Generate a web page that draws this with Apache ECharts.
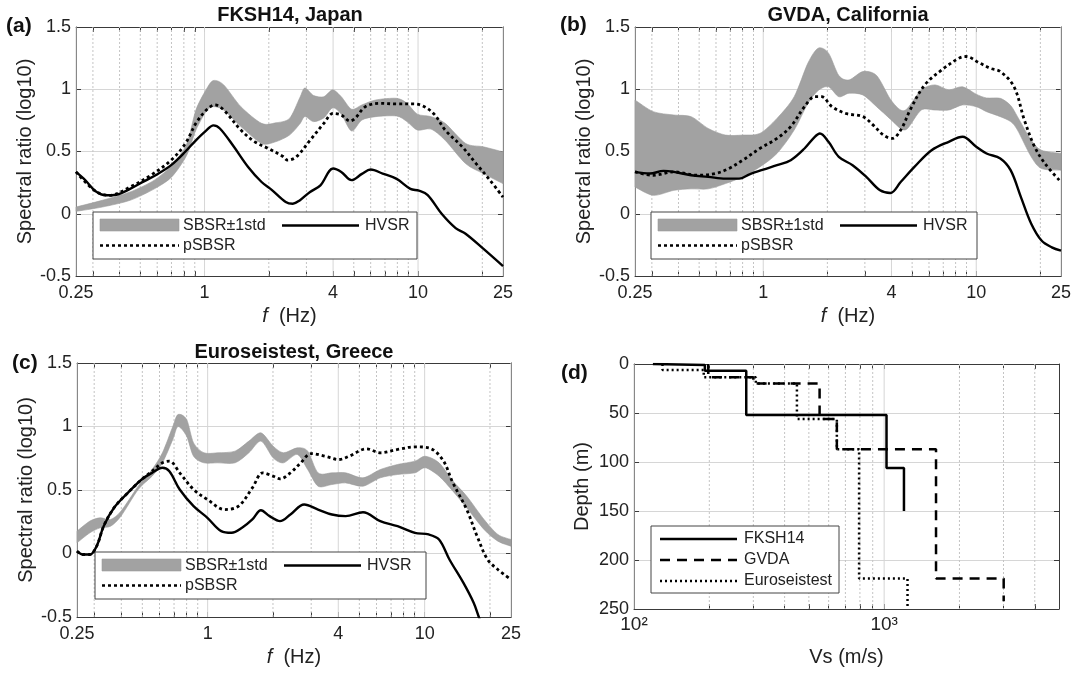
<!DOCTYPE html>
<html>
<head>
<meta charset="utf-8">
<script src="https://cdn.jsdelivr.net/npm/echarts@6/dist/echarts.min.js"></script>
<style>
    html, body { margin: 0; padding: 0; background: #fff; }
    #main { width: 1075px; height: 675px; }
</style>
</head>
<body>
<div id="main"></div>
<script>
'use strict';

// ---- axis ticks ----
var freqMajor = [0.25, 1, 4, 10, 25];
var freqMinor = [0.3, 0.4, 0.5, 0.6, 0.7, 0.8, 0.9, 2, 3, 5, 6, 7, 8, 9, 20];
var vsMajor = [100, 1000];
var vsMinor = [200, 300, 400, 500, 600, 700, 800, 900, 2000, 3000, 4000];

// ---- (a) FKSH14, Japan ----
var aHvsrF = [0.25, 0.276, 0.309, 0.345, 0.386, 0.448, 0.52, 0.604, 0.702, 0.814, 0.911, 1.02, 1.10, 1.18, 1.37, 1.60, 1.85, 2.07, 2.40, 2.59, 2.79, 3.12, 3.49, 4.0, 4.37, 4.88, 5.46, 6.0, 6.83, 7.94, 9.21, 10.1, 11.1, 12.9, 15.0, 16.7, 20.2, 25];
var aHvsrV = [0.336, 0.27, 0.18, 0.148, 0.153, 0.2, 0.26, 0.32, 0.395, 0.5, 0.59, 0.67, 0.71, 0.685, 0.54, 0.376, 0.255, 0.19, 0.094, 0.08, 0.107, 0.175, 0.228, 0.363, 0.336, 0.27, 0.32, 0.355, 0.323, 0.28, 0.2, 0.185, 0.15, 0, -0.115, -0.16, -0.28, -0.42];
var aPsbsrF = [0.25, 0.309, 0.358, 0.448, 0.561, 0.702, 0.814, 0.911, 1.02, 1.12, 1.23, 1.48, 1.72, 1.99, 2.32, 2.45, 2.69, 3.12, 3.62, 4.0, 4.37, 4.80, 5.07, 5.67, 6.58, 7.94, 9.56, 10.7, 12.0, 13.4, 16.1, 18.7, 21.7, 25];
var aPsbsrV = [0.336, 0.18, 0.148, 0.215, 0.31, 0.435, 0.565, 0.726, 0.833, 0.874, 0.833, 0.672, 0.578, 0.524, 0.462, 0.43, 0.457, 0.59, 0.726, 0.806, 0.793, 0.745, 0.766, 0.86, 0.887, 0.882, 0.882, 0.86, 0.793, 0.672, 0.538, 0.403, 0.27, 0.134];
var aBandF = [0.25, 0.332, 0.448, 0.582, 0.702, 0.825, 0.911, 1.02, 1.10, 1.23, 1.48, 1.85, 2.15, 2.50, 2.79, 2.95, 3.24, 3.62, 3.98, 4.37, 4.88, 5.46, 6.34, 7.94, 8.87, 9.93, 11.5, 13.4, 16.7, 20.2, 25];
var aBandLo = [0.019, 0.054, 0.108, 0.2, 0.296, 0.47, 0.672, 0.825, 0.86, 0.833, 0.7, 0.565, 0.578, 0.632, 0.72, 0.78, 0.74, 0.77, 0.85, 0.8, 0.665, 0.753, 0.78, 0.785, 0.74, 0.672, 0.68, 0.59, 0.403, 0.323, 0.242];
var aBandHi = [0.054, 0.108, 0.175, 0.27, 0.39, 0.56, 0.833, 1.0, 1.07, 1.035, 0.86, 0.726, 0.73, 0.766, 0.93, 1.01, 0.95, 0.94, 0.995, 0.94, 0.84, 0.874, 0.914, 0.927, 0.887, 0.8, 0.78, 0.726, 0.565, 0.538, 0.497];

// ---- (b) GVDA, California ----
var bHvsrF = [0.25, 0.2935, 0.3404, 0.3807, 0.4584, 0.5519, 0.6646, 0.7711, 0.862, 1.0, 1.16, 1.346, 1.562, 1.746, 1.845, 2.025, 2.264, 2.627, 3.047, 3.535, 3.952, 4.418, 5.126, 6.17, 7.43, 8.623, 10.0, 11.18, 12.97, 14.5, 16.21, 18.12, 20.25, 22.63, 25];
var bHvsrV = [0.336, 0.323, 0.344, 0.336, 0.309, 0.296, 0.282, 0.282, 0.317, 0.355, 0.39, 0.43, 0.524, 0.618, 0.645, 0.578, 0.457, 0.39, 0.296, 0.188, 0.167, 0.255, 0.376, 0.51, 0.578, 0.618, 0.538, 0.484, 0.444, 0.35, 0.134, -0.08, -0.215, -0.27, -0.296];
var bPsbsrF = [0.25, 0.3047, 0.3807, 0.4938, 0.5943, 0.6897, 0.8, 0.9636, 1.16, 1.346, 1.562, 1.746, 1.88, 2.102, 2.438, 2.937, 3.282, 3.668, 4.026, 4.418, 4.938, 5.73, 6.897, 8.309, 8.947, 10.38, 11.6, 12.97, 15.05, 16.82, 18.8, 21.02, 25];
var bPsbsrV = [0.336, 0.309, 0.336, 0.309, 0.323, 0.363, 0.43, 0.524, 0.605, 0.7, 0.86, 0.94, 0.94, 0.86, 0.806, 0.78, 0.712, 0.632, 0.605, 0.672, 0.847, 1.035, 1.156, 1.25, 1.263, 1.21, 1.169, 1.142, 1.02, 0.753, 0.538, 0.403, 0.255];
var bBandF = [0.25, 0.3047, 0.3807, 0.4584, 0.5519, 0.6646, 0.8, 0.9636, 1.16, 1.397, 1.621, 1.812, 2.025, 2.264, 2.53, 2.937, 3.406, 3.952, 4.418, 4.758, 5.521, 6.404, 7.43, 8.623, 10.0, 11.18, 12.97, 14.5, 15.62, 18.12, 20.25, 25];
var bBandLo = [0.215, 0.148, 0.188, 0.2, 0.2, 0.242, 0.296, 0.376, 0.484, 0.672, 0.887, 0.99, 1.02, 0.94, 0.968, 0.954, 0.86, 0.76, 0.685, 0.685, 0.833, 0.833, 0.833, 0.874, 0.86, 0.82, 0.78, 0.74, 0.672, 0.457, 0.363, 0.35];
var bBandHi = [0.914, 0.82, 0.793, 0.78, 0.685, 0.632, 0.632, 0.645, 0.766, 0.94, 1.21, 1.33, 1.29, 1.11, 1.075, 1.142, 1.11, 0.92, 0.833, 0.847, 0.995, 1.035, 0.995, 1.02, 0.96, 0.93, 0.927, 0.87, 0.78, 0.59, 0.51, 0.484];

// ---- (c) Euroseistest, Greece ----
var cHvsrF = [0.25, 0.266, 0.2866, 0.3081, 0.3317, 0.3703, 0.4289, 0.4966, 0.5543, 0.6189, 0.6661, 0.7435, 0.8612, 0.9973, 1.155, 1.289, 1.44, 1.607, 1.761, 1.93, 2.155, 2.406, 2.786, 3.227, 3.737, 4.327, 5.199, 6.245, 7.502, 9.014, 10.44, 11.65, 13.01, 15.07, 16.82, 17.77, 18.78];
var cHvsrV = [0.018, -0.008, -0.008, 0.058, 0.215, 0.36, 0.478, 0.583, 0.635, 0.675, 0.648, 0.504, 0.373, 0.281, 0.176, 0.163, 0.202, 0.268, 0.341, 0.294, 0.255, 0.307, 0.386, 0.346, 0.307, 0.294, 0.325, 0.255, 0.215, 0.163, 0.15, 0.11, -0.047, -0.23, -0.388, -0.5, -0.6];
var cPsbsrF = [0.25, 0.266, 0.2866, 0.3081, 0.3317, 0.3703, 0.4289, 0.4966, 0.5543, 0.6189, 0.6661, 0.7435, 0.8612, 0.9973, 1.198, 1.388, 1.607, 1.794, 2.003, 2.155, 2.406, 2.686, 2.999, 3.472, 4.021, 4.489, 5.393, 6.245, 7.502, 9.014, 10.44, 12.09, 13.5, 15.63, 17.45, 19.48, 21.75, 25];
var cPsbsrV = [0.018, -0.008, -0.008, 0.058, 0.215, 0.36, 0.478, 0.583, 0.648, 0.714, 0.727, 0.635, 0.504, 0.425, 0.346, 0.373, 0.517, 0.635, 0.609, 0.588, 0.635, 0.714, 0.787, 0.766, 0.74, 0.766, 0.824, 0.793, 0.819, 0.84, 0.832, 0.74, 0.556, 0.346, 0.136, -0.047, -0.126, -0.205];
var cBandF = [0.25, 0.2866, 0.3196, 0.357, 0.3985, 0.4787, 0.5543, 0.6189, 0.6909, 0.73, 0.8002, 0.8612, 0.9613, 1.113, 1.338, 1.549, 1.761, 2.003, 2.236, 2.589, 2.891, 3.227, 3.737, 4.327, 5.199, 6.245, 7.502, 9.014, 10.06, 11.65, 13.5, 15.63, 18.78, 21.75, 25];
var cBandLo = [0.084, 0.163, 0.202, 0.215, 0.294, 0.504, 0.609, 0.714, 0.898, 1.0, 0.924, 0.766, 0.714, 0.714, 0.714, 0.793, 0.885, 0.753, 0.714, 0.78, 0.661, 0.53, 0.543, 0.556, 0.53, 0.596, 0.622, 0.635, 0.675, 0.609, 0.491, 0.36, 0.189, 0.097, 0.058];
var cBandHi = [0.176, 0.255, 0.281, 0.268, 0.333, 0.53, 0.661, 0.793, 1.0, 1.094, 1.055, 0.871, 0.793, 0.793, 0.806, 0.885, 0.95, 0.845, 0.793, 0.832, 0.806, 0.635, 0.635, 0.635, 0.596, 0.661, 0.701, 0.727, 0.766, 0.714, 0.57, 0.451, 0.268, 0.15, 0.11];

// ---- (d) Vs profiles: layer boundaries (m) and layer Vs (m/s) ----
var fkshDepth = [0, 1, 7, 52, 106, 150];
var fkshVs = [119, 192, 281, 1022, 1200];
var gvdaDepth = [0, 13.5, 20, 56, 87, 219, 242];
var gvdaVs = [198, 300, 552, 647, 1612, 3005];
var euroDepth = [0, 6, 13.5, 20, 56, 87, 219, 250];
var euroVs = [130, 190, 307, 448, 647, 794, 1240];

(function () {
    var myChart = echarts.init(document.getElementById('main'));
    var FONT = '"Liberation Sans", Arial, Helvetica, sans-serif';
    var INK = '#222';
    var AXIS = '#3a3a3a';
    var BAND = '#a2a2a2';
    var L10 = Math.log10;

    function pts(fs, vs) {
        return fs.map(function (f, i) { return [L10(f), vs[i]]; });
    }

    // step profile -> polyline corners
    function profile(depth, vs) {
        var out = [];
        for (var i = 0; i < vs.length; i++) {
            out.push([L10(vs[i]), depth[i]]);
            out.push([L10(vs[i]), depth[i + 1]]);
        }
        return out;
    }

    // smooth path through pixel points (catmull-rom drawn as bezier)
    function curvePath(p, first) {
        var d = (first ? 'M' : 'L') + p[0][0].toFixed(2) + ' ' + p[0][1].toFixed(2);
        var t = 0.85 / 6;
        for (var i = 0; i < p.length - 1; i++) {
            var p0 = p[i - 1] || p[i], p1 = p[i], p2 = p[i + 1], p3 = p[i + 2] || p[i + 1];
            var c1x = p1[0] + (p2[0] - p0[0]) * t, c1y = p1[1] + (p2[1] - p0[1]) * t;
            var c2x = p2[0] - (p3[0] - p1[0]) * t, c2y = p2[1] - (p3[1] - p1[1]) * t;
            d += ' C' + c1x.toFixed(2) + ' ' + c1y.toFixed(2) + ' ' + c2x.toFixed(2) + ' ' +
                c2y.toFixed(2) + ' ' + p2[0].toFixed(2) + ' ' + p2[1].toFixed(2);
        }
        return d;
    }

    // vertical grid lines (major solid, minor dotted)
    function gridSeries(xi, major, minor, y0, y1) {
        var data = major.map(function (v) { return [L10(v), y0, y1, 1]; })
            .concat(minor.map(function (v) { return [L10(v), y0, y1, 0]; }));
        return {
            type: 'custom', xAxisIndex: xi, yAxisIndex: xi, silent: true, z: 1,
            encode: { x: 0, y: [1, 2] },
            data: data,
            renderItem: function (params, api) {
                var p1 = api.coord([api.value(0), api.value(1)]);
                var p2 = api.coord([api.value(0), api.value(2)]);
                var maj = api.value(3) === 1;
                return {
                    type: 'line',
                    shape: { x1: p1[0], y1: p1[1], x2: p2[0], y2: p2[1] },
                    style: { stroke: maj ? '#d6d6d6' : '#c4c4c4', lineWidth: 1, lineDash: maj ? null : [2, 2] }
                };
            }
        };
    }

    // SBSR +/- 1 std band as one filled path
    function bandSeries(xi, fs, lo, hi) {
        return {
            type: 'custom', xAxisIndex: xi, yAxisIndex: xi, silent: true, z: 2,
            name: 'SBSR±1std',
            encode: { x: 0, y: [1, 2] },
            data: fs.map(function (f, i) { return [L10(f), lo[i], hi[i]]; }),
            renderItem: function (params, api) {
                if (params.dataIndex !== 0) return;
                var up = fs.map(function (f, i) { return api.coord([L10(f), hi[i]]); });
                var dn = fs.map(function (f, i) { return api.coord([L10(f), lo[i]]); }).reverse();
                return {
                    type: 'path',
                    shape: { pathData: curvePath(up, true) + ' ' + curvePath(dn, false) + ' Z' },
                    style: { fill: BAND, stroke: '#9a9a9a', lineWidth: 0.6 }
                };
            }
        };
    }

    function lineSeries(xi, name, data, dotted) {
        return {
            type: 'line', name: name, xAxisIndex: xi, yAxisIndex: xi,
            data: data, smooth: 0.35, symbol: 'none', clip: true, z: dotted ? 4 : 3,
            lineStyle: { color: '#000', width: dotted ? 2.8 : 2.4, type: dotted ? [3, 3] : 'solid' }
        };
    }

    var tickStyle = { show: true, inside: true, length: 5, lineStyle: { color: AXIS, width: 1 } };
    var lineStyleAx = { show: true, onZero: false, lineStyle: { color: AXIS, width: 1 } };

    function freqX(gi, bottom) {
        var ax = {
            type: 'value', gridIndex: gi, position: bottom ? 'bottom' : 'top',
            min: L10(0.25), max: L10(25),
            axisLine: lineStyleAx,
            axisTick: Object.assign({ customValues: freqMajor.concat(freqMinor).map(L10) }, tickStyle),
            splitLine: { show: false },
            axisLabel: {
                show: bottom, customValues: freqMajor.map(L10), margin: 8,
                fontSize: 18, color: INK, fontFamily: FONT,
                formatter: function (v) { return String(Math.round(Math.pow(10, v) * 100) / 100); }
            }
        };
        if (bottom) {
            ax.name = '{i|f}  (Hz)';
            ax.nameLocation = 'middle';
            ax.nameGap = 30;
            ax.nameTextStyle = { fontSize: 20, color: INK, fontFamily: FONT,
                rich: { i: { fontStyle: 'italic', fontSize: 20, color: INK, fontFamily: FONT } } };
        }
        return ax;
    }

    function ratioY(gi, left) {
        var ax = {
            type: 'value', gridIndex: gi, position: left ? 'left' : 'right',
            min: -0.5, max: 1.5, interval: 0.5,
            axisLine: lineStyleAx,
            axisTick: tickStyle,
            splitLine: { show: left, lineStyle: { color: '#d6d6d6', width: 1 } },
            axisLabel: { show: left, margin: 5, fontSize: 18, color: INK, fontFamily: FONT }
        };
        if (left) {
            ax.name = 'Spectral ratio (log10)';
            ax.nameLocation = 'middle';
            ax.nameGap = 41;
            ax.nameTextStyle = { fontSize: 20, color: INK, fontFamily: FONT };
        }
        return ax;
    }

    var grids = [
        { left: 76, top: 27, width: 427, height: 249 },
        { left: 635, top: 27, width: 426, height: 249 },
        { left: 77, top: 363, width: 434, height: 254 },
        { left: 634, top: 364, width: 425, height: 245 }
    ].map(function (g) { g.outerBoundsMode = 'none'; g.containLabel = false; return g; });

    var xAxes = [], yAxes = [], series = [];
    var spectral = [
        [aBandF, aBandLo, aBandHi, aHvsrF, aHvsrV, aPsbsrF, aPsbsrV],
        [bBandF, bBandLo, bBandHi, bHvsrF, bHvsrV, bPsbsrF, bPsbsrV],
        [cBandF, cBandLo, cBandHi, cHvsrF, cHvsrV, cPsbsrF, cPsbsrV]
    ];
    spectral.forEach(function (s, gi) {
        var xi = xAxes.length;
        xAxes.push(freqX(gi, true), freqX(gi, false));
        yAxes.push(ratioY(gi, true), ratioY(gi, false));
        series.push(gridSeries(xi, freqMajor, freqMinor, -0.5, 1.5));
        series.push(bandSeries(xi, s[0], s[1], s[2]));
        series.push(lineSeries(xi, 'HVSR', pts(s[3], s[4]), false));
        series.push(lineSeries(xi, 'pSBSR', pts(s[5], s[6]), true));
    });

    // (d) Vs profiles
    var vsTicks = vsMajor.concat(vsMinor).map(L10);
    [true, false].forEach(function (bottom) {
        var ax = {
            type: 'value', gridIndex: 3, position: bottom ? 'bottom' : 'top',
            min: 2, max: L10(5000),
            axisLine: lineStyleAx,
            axisTick: Object.assign({ customValues: vsTicks }, tickStyle),
            splitLine: { show: false },
            axisLabel: {
                show: bottom, customValues: vsMajor.map(L10), margin: 6,
                fontSize: 19, color: INK, fontFamily: FONT,
                formatter: function (v) { return Math.round(v) === 2 ? '10²' : '10³'; }
            }
        };
        if (bottom) {
            ax.name = 'Vs (m/s)';
            ax.nameLocation = 'middle';
            ax.nameGap = 38;
            ax.nameTextStyle = { fontSize: 20, color: INK, fontFamily: FONT };
        }
        xAxes.push(ax);
    });
    [true, false].forEach(function (left) {
        var ax = {
            type: 'value', gridIndex: 3, position: left ? 'left' : 'right',
            min: 0, max: 250, interval: 50, inverse: true,
            axisLine: lineStyleAx,
            axisTick: tickStyle,
            splitLine: { show: left, lineStyle: { color: '#d6d6d6', width: 1 } },
            axisLabel: { show: left, margin: 5, fontSize: 18, color: INK, fontFamily: FONT }
        };
        if (left) {
            ax.name = 'Depth (m)';
            ax.nameLocation = 'middle';
            ax.nameGap = 42;
            ax.nameTextStyle = { fontSize: 20, color: INK, fontFamily: FONT };
        }
        yAxes.push(ax);
    });
    series.push(gridSeries(6, vsMajor, vsMinor, 0, 250));
    [['FKSH14', profile(fkshDepth, fkshVs), 'solid'],
     ['GVDA', profile(gvdaDepth, gvdaVs), [10, 7]],
     ['Euroseistest', profile(euroDepth, euroVs), [2, 3]]].forEach(function (p, k) {
        series.push({
            type: 'line', name: p[0], xAxisIndex: 6, yAxisIndex: 6, data: p[1],
            symbol: 'none', clip: true, z: 3 + k,
            lineStyle: { color: '#000', width: 2.5, type: p[2] }
        });
    });

    // text + legends
    var graphic = [];
    function text(x, y, str, size, bold, align) {
        graphic.push({
            type: 'text', x: x, y: y, z: 100,
            style: { text: str, fontSize: size, fontWeight: bold ? 'bold' : 'normal', fontFamily: FONT,
                fill: bold ? '#111' : INK, align: align || 'left', verticalAlign: 'middle' }
        });
    }
    function hline(x1, x2, y, dash) {
        graphic.push({
            type: 'line', z: 100, shape: { x1: x1, y1: y, x2: x2, y2: y },
            style: { stroke: '#000', lineWidth: 2.5, lineDash: dash }
        });
    }
    function box(x, y, w, h) {
        graphic.push({
            type: 'rect', z: 99, shape: { x: x, y: y, width: w, height: h },
            style: { fill: '#fff', stroke: '#444', lineWidth: 1 }
        });
    }
    function spectralLegend(x, y, w) {
        box(x, y, w, 47);
        graphic.push({ type: 'rect', z: 100, shape: { x: x + 7, y: y + 7, width: 79, height: 12 },
            style: { fill: BAND, stroke: '#9a9a9a', lineWidth: 0.6 } });
        text(x + 90, y + 13.5, 'SBSR±1std', 16);
        hline(x + 189, x + 266, y + 13.5, null);
        text(x + 272, y + 13.5, 'HVSR', 16);
        hline(x + 7, x + 86, y + 33.5, [3, 3]);
        text(x + 90, y + 33.5, 'pSBSR', 16);
    }
    spectralLegend(93, 212, 324);
    spectralLegend(651, 212, 326);
    spectralLegend(95, 552, 331);

    box(651, 526, 188, 67);
    hline(660, 737, 539, null);
    text(744, 539, 'FKSH14', 16);
    hline(660, 737, 560, [10, 7]);
    text(744, 560, 'GVDA', 16);
    hline(660, 737, 581, [2, 3]);
    text(744, 581, 'Euroseistest', 16);

    text(290, 15, 'FKSH14, Japan', 20, true, 'center');
    text(848, 15, 'GVDA, California', 20, true, 'center');
    text(294, 352, 'Euroseistest, Greece', 20, true, 'center');
    text(6, 26, '(a)', 21, true);
    text(560, 25, '(b)', 21, true);
    text(12, 363, '(c)', 21, true);
    text(561, 373, '(d)', 21, true);

    var option = {
        animation: false,
        backgroundColor: '#fff',
        textStyle: { fontFamily: FONT },
        grid: grids,
        xAxis: xAxes,
        yAxis: yAxes,
        series: series,
        graphic: graphic
    };

    myChart.setOption(option);
})();
</script>
</body>
</html>
